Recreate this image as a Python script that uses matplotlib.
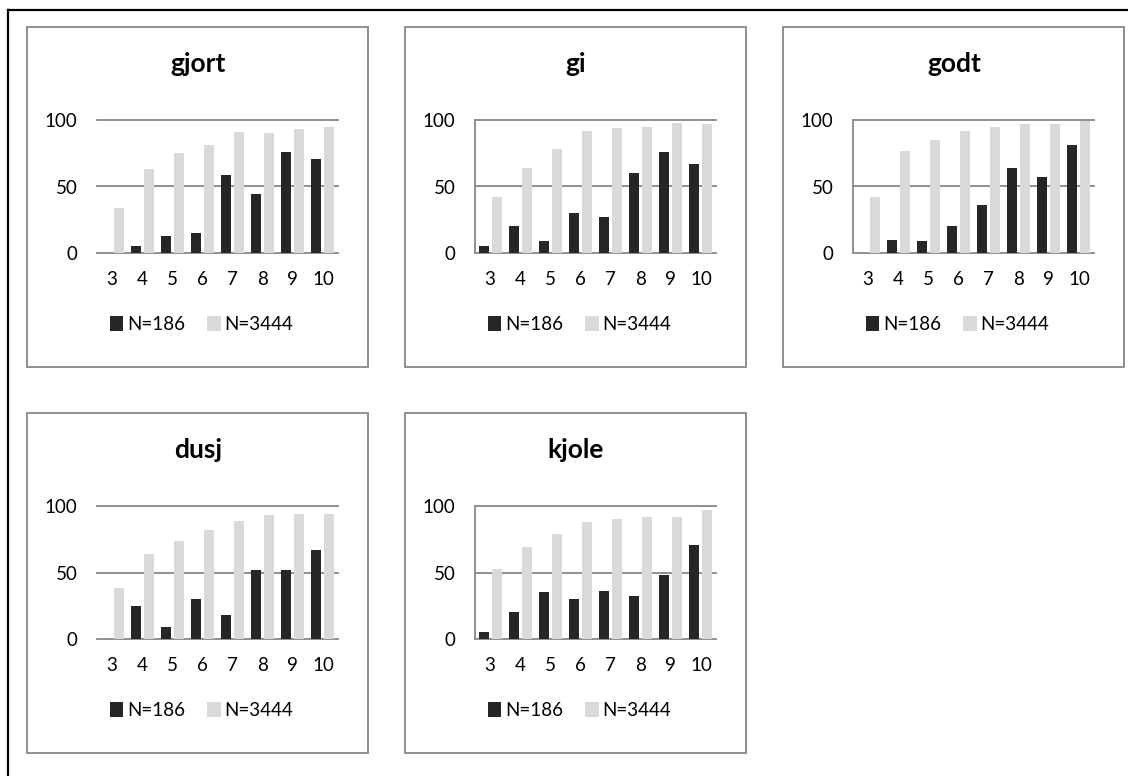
import numpy as np
import matplotlib
matplotlib.use('Agg')
import matplotlib.pyplot as plt
from matplotlib.patches import Rectangle
from matplotlib.lines import Line2D

plt.rcParams['font.family'] = ['Lato', 'DejaVu Sans']

# ---------------------------------------------------------
# data
# ---------------------------------------------------------
categories = ['3', '4', '5', '6', '7', '8', '9', '10']
series_names = ['N=186', 'N=3444']
titles = ['gjort', 'gi', 'godt', 'dusj', 'kjole']

gjort_186 = [0, 5, 13, 15, 59, 44, 76, 71]
gjort_3444 = [34, 63, 75, 81, 91, 90, 93, 95]

gi_186 = [5, 20, 9, 30, 27, 60, 76, 67]
gi_3444 = [42, 64, 78, 92, 94, 95, 98, 97]

godt_186 = [0, 10, 9, 20, 36, 64, 57, 81]
godt_3444 = [42, 77, 85, 92, 95, 97, 97, 99]

dusj_186 = [0, 25, 9, 30, 18, 52, 52, 67]
dusj_3444 = [38, 64, 74, 82, 89, 93, 94, 94]

kjole_186 = [5, 20, 35, 30, 36, 32, 48, 71]
kjole_3444 = [53, 69, 79, 88, 90, 92, 92, 97]

panel_data = [
    (gjort_186, gjort_3444),
    (gi_186, gi_3444),
    (godt_186, godt_3444),
    (dusj_186, dusj_3444),
    (kjole_186, kjole_3444),
]

# ---------------------------------------------------------
# layout (pixels)
# ---------------------------------------------------------
W, H = 1128, 776
dark = '#262626'
light = '#d9d9d9'
grey = '#878787'

# panel top-left corners and whether the left axis line is shown
panels = [
    (27, 27, False),
    (405, 27, True),
    (783, 27, True),
    (27, 413, False),
    (405, 413, True),
]
panel_w, panel_h = 341, 340

fig = plt.figure(figsize=(W / 100, H / 100), dpi=100)


def fx(px):
    return px / W


def fy(py):
    return 1 - py / H


# outer black frame (only left and top edges are visible)
fig.add_artist(Line2D([fx(8), fx(8)], [fy(10), fy(H + 5)], color='black', lw=1.6))
fig.add_artist(Line2D([fx(8), fx(W + 5)], [fy(10), fy(10)], color='black', lw=1.6))

x = np.arange(len(categories))
bw = 0.33
off = 0.215

for (L, T, show_left), title, (s1, s2) in zip(panels, titles, panel_data):
    # panel border
    fig.add_artist(Rectangle((fx(L), fy(T + panel_h)), panel_w / W, panel_h / H,
                             transform=fig.transFigure, fill=False,
                             edgecolor=grey, lw=1.3))

    ax = fig.add_axes([fx(L + 70), fy(T + 226), 241 / W, 133 / H])
    ax.bar(x - off, s1, width=bw, color=dark, label=series_names[0], zorder=3)
    ax.bar(x + off, s2, width=bw, color=light, label=series_names[1], zorder=3)

    ax.set_xlim(-0.5, len(categories) - 0.5)
    ax.set_ylim(0, 100)
    ax.set_yticks([0, 50, 100])
    ax.set_xticks(x)
    ax.set_xticklabels(categories)
    ax.grid(axis='y', color=grey, lw=1.3, zorder=1)
    for gl in ax.get_ygridlines():
        gl.set_clip_on(False)

    for side in ['top', 'right', 'bottom']:
        ax.spines[side].set_visible(False)
    ax.spines['left'].set_visible(show_left)
    ax.spines['left'].set_color(grey)
    ax.spines['left'].set_linewidth(1.3)

    ax.tick_params(axis='both', length=0, labelsize=13.5, colors='black')
    ax.tick_params(axis='y', pad=14)
    ax.tick_params(axis='x', pad=13)

    fig.text(fx(L + 171), fy(T + 37), title, ha='center', va='center',
             fontsize=19, fontweight='bold')

    ax.legend(loc='center', bbox_to_anchor=(0.434, -0.541), ncol=2,
              frameon=False, fontsize=13.5, handlelength=0.7,
              handleheight=0.85, handletextpad=0.2, columnspacing=1.2)

plt.savefig('out.png', dpi=100)
